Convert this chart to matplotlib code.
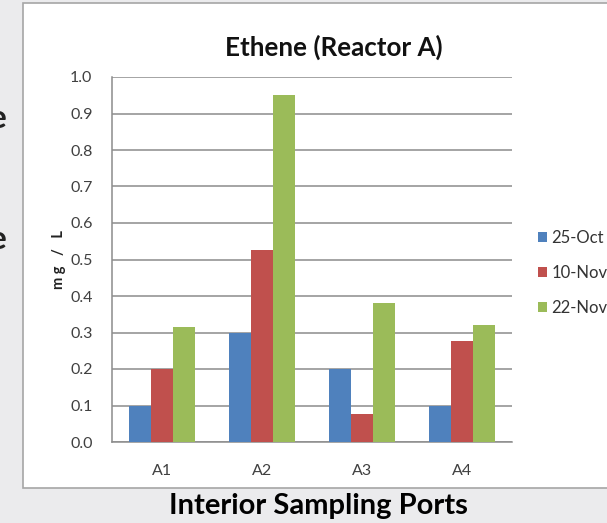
import matplotlib
matplotlib.use("Agg")
import matplotlib.pyplot as plt
import numpy as np
from matplotlib.patches import Rectangle

plt.rcParams['font.family'] = ['Lato', 'DejaVu Sans']

ports = ['A1', 'A2', 'A3', 'A4']
dates = ['25-Oct', '10-Nov', '22-Nov']
oct25 = [0.10, 0.30, 0.20, 0.10]
nov10 = [0.20, 0.526, 0.077, 0.278]
nov22 = [0.315, 0.95, 0.38, 0.32]
colors = ['#4F81BD', '#C0504D', '#9BBB59']

W, H = 607, 523
fig = plt.figure(figsize=(W / 100, H / 100), dpi=100, facecolor='#ebebed')

# white chart frame sitting on the slide
fig.patches.append(Rectangle((23 / W, (H - 488) / H), 1.0, (488 - 3) / H,
                             transform=fig.transFigure, facecolor='white',
                             edgecolor='#a6a6a6', lw=1.2, zorder=-5))

# clipped letters of the slide text at the left edge
for yy, ch, col in [(118, 'e', '#222222'), (185, 'l', '#9a9a9a'), (240, 'e', '#222222')]:
    fig.text(-11 / W, 1 - yy / H, ch, fontsize=24, fontweight='bold', color=col,
             ha='left', va='center')

ax = fig.add_axes([112 / W, (H - 442) / H, 400 / W, 365 / H])
ax.set_zorder(2)
ax.set_facecolor('white')

x = np.arange(len(ports))
bw = 0.223
for i, (vals, lab) in enumerate(zip([oct25, nov10, nov22], dates)):
    ax.bar(x + (i - 1) * bw, vals, bw, color=colors[i], label=lab, zorder=3)

ax.set_xlim(-0.5, 3.5)
ax.set_ylim(0, 1.0)
ax.set_yticks(np.arange(0, 1.01, 0.1))
ax.set_yticklabels([f'{v:.1f}' for v in np.arange(0, 1.01, 0.1)])
ax.set_xticks(x)
ax.set_xticklabels(ports)
ax.tick_params(axis='both', length=0, labelsize=11.5, colors='#404040')
ax.tick_params(axis='y', pad=14)
ax.tick_params(axis='x', pad=16)
ax.grid(axis='y', color='#8c8c8c', lw=1.1, zorder=0)
for s in ['top', 'right']:
    ax.spines[s].set_visible(False)
for s in ['left', 'bottom']:
    ax.spines[s].set_color('#8c8c8c')
    ax.spines[s].set_linewidth(1.1)

ax.set_ylabel('m g   /   L', fontsize=10.5, fontweight='bold', color='#222222', labelpad=3)

fig.text(334 / W, 1 - 47 / H, 'Ethene (Reactor A)', fontsize=18.7, fontweight='bold',
         color='#111111', ha='center', va='center')
fig.text(318 / W, 1 - 506 / H, 'Interior Sampling Ports', fontsize=21, fontweight='bold',
         color='black', ha='center', va='center')

leg = ax.legend(loc='upper left', bbox_to_anchor=(538 / W, 1 - 230 / H),
                bbox_transform=fig.transFigure, frameon=False, fontsize=12,
                handlelength=0.55, handleheight=0.55, handletextpad=0.25,
                labelspacing=1.15, borderaxespad=0, borderpad=0)
for t in leg.get_texts():
    t.set_color('#333333')

fig.savefig('out.png', dpi=100, facecolor=fig.get_facecolor())
